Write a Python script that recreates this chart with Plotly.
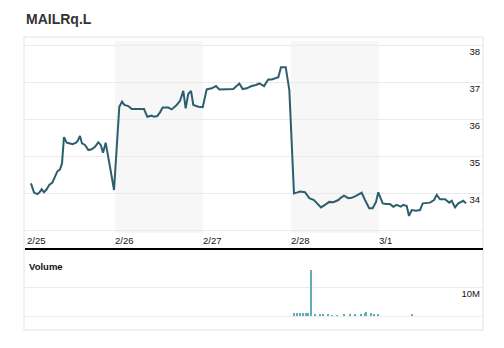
import plotly.graph_objects as go

W, H = 504, 348

# Trading sessions shown on the x axis (one unit = one session)
day_labels = ["2/25", "2/26", "2/27", "2/28", "3/1"]
day_starts = [0, 1, 2, 3, 4]

# Intraday price series: session position and last price
t_price = [0.045, 0.08, 0.117, 0.14, 0.167, 0.193, 0.224, 0.253, 0.288, 0.318, 0.344, 0.375, 0.398,
           0.42, 0.451, 0.489, 0.519, 0.557, 0.576, 0.602, 0.625, 0.659, 0.697, 0.735, 0.773, 0.81,
           0.838, 0.864, 0.894, 0.943, 0.989,
           1.049, 1.08, 1.106, 1.151, 1.19, 1.227, 1.265, 1.33, 1.367, 1.417, 1.443, 1.481, 1.511,
           1.542, 1.606, 1.644, 1.701, 1.739, 1.776, 1.803, 1.833, 1.864, 1.89, 1.947, 1.997,
           2.042, 2.099, 2.148, 2.185, 2.261, 2.344, 2.413, 2.451, 2.497, 2.553, 2.602, 2.64, 2.693,
           2.742, 2.781, 2.818, 2.856, 2.886, 2.94, 2.981,
           3.034, 3.065, 3.102, 3.159, 3.208, 3.261, 3.341, 3.386, 3.435, 3.481, 3.538, 3.565, 3.602,
           3.651, 3.69, 3.739, 3.803, 3.841, 3.889, 3.928, 3.966, 3.992,
           4.042, 4.08, 4.125, 4.163, 4.201, 4.247, 4.276, 4.315, 4.341, 4.372, 4.42, 4.466, 4.497,
           4.58, 4.625, 4.656, 4.693, 4.75, 4.799, 4.826, 4.864, 4.901, 4.958, 4.989]
price = [34.26, 34.01, 33.97, 34.01, 34.10, 34.02, 34.10, 34.22, 34.28, 34.44, 34.58, 34.64, 34.80,
         35.51, 35.36, 35.34, 35.32, 35.36, 35.41, 35.54, 35.34, 35.30, 35.16, 35.18, 35.25, 35.37,
         35.30, 35.09, 35.36, 34.71, 34.08,
         36.33, 36.47, 36.38, 36.35, 36.27, 36.27, 36.29, 36.27, 36.06, 36.09, 36.06, 36.08, 36.18,
         36.31, 36.31, 36.26, 36.38, 36.49, 36.76, 36.29, 36.68, 36.76, 36.38, 36.33, 36.32,
         36.80, 36.83, 36.89, 36.80, 36.81, 36.81, 36.96, 36.81, 36.83, 36.89, 36.92, 36.96, 36.89,
         37.07, 37.07, 37.10, 37.13, 37.40, 37.40, 36.78,
         33.99, 34.01, 34.04, 34.02, 33.86, 33.81, 33.61, 33.68, 33.76, 33.75, 33.81, 33.87, 33.93,
         33.86, 33.87, 33.92, 34.01, 33.81, 33.59, 33.59, 33.76, 34.02,
         33.72, 33.70, 33.70, 33.63, 33.68, 33.63, 33.68, 33.65, 33.38, 33.54, 33.52, 33.54, 33.72,
         33.74, 33.81, 33.95, 33.83, 33.83, 33.74, 33.79, 33.61, 33.72, 33.79, 33.72]

# Volume bars (millions of shares)
t_volume = [3.04, 3.07, 3.10, 3.14, 3.17, 3.20, 3.23, 3.28, 3.33, 3.37, 3.42, 3.47, 3.53, 3.61,
            3.67, 3.73, 3.80, 3.84, 3.86, 3.91, 3.95, 3.99, 4.375]
volume_m = [1.1, 1.1, 1.1, 1.0, 1.0, 0.9, 15.9, 0.5, 0.5, 0.4, 0.5, 0.3, 0.3, 0.6,
            0.5, 0.6, 0.5, 1.2, 1.3, 0.9, 0.8, 0.6, 0.5]

price_ticks = [33, 34, 35, 36, 37, 38]
price_ticktext = ["", "34", "35", "36", "37", "38"]
volume_ticks = [0, 10]
volume_ticktext = ["", "10M"]

FONT = "Liberation Sans, Arial, sans-serif"
LINE_COLOR = "#2c5f6e"
BAR_COLOR = "#66abbb"
GRID = "#ebebeb"
BAND = "#f7f7f7"


def px_x(p):
    return p / W


def px_y(p):
    return 1 - p / H


x_left, x_right = 25, 483
x_range = [(x_left - 27) / 88, (x_right - 27) / 88]

fig = go.Figure()

fig.add_trace(go.Scatter(
    x=t_price, y=price, mode="lines",
    line=dict(color=LINE_COLOR, width=2),
    xaxis="x", yaxis="y", showlegend=False, hoverinfo="skip",
))

fig.add_trace(go.Bar(
    x=t_volume, y=volume_m, width=0.016,
    marker=dict(color=BAR_COLOR, line=dict(width=0)),
    xaxis="x2", yaxis="y2", showlegend=False, hoverinfo="skip",
))

shapes = [
    # outer frame
    dict(type="rect", xref="paper", yref="paper",
         x0=px_x(24), x1=px_x(483), y0=px_y(330), y1=px_y(37),
         line=dict(color="#e2e2e2", width=1), fillcolor="rgba(0,0,0,0)", layer="below"),
    # separator between price and volume panels
    dict(type="line", xref="paper", yref="paper",
         x0=px_x(25), x1=px_x(483), y0=px_y(249), y1=px_y(249),
         line=dict(color="#000000", width=2)),
]
# alternating session shading
for d in (1, 3):
    shapes.append(dict(type="rect", xref="x", yref="y domain",
                       x0=d, x1=d + 1, y0=0, y1=1,
                       fillcolor=BAND, line=dict(width=0), layer="below"))

fig.update_layout(
    width=W, height=H,
    margin=dict(l=0, r=0, t=0, b=0),
    paper_bgcolor="white", plot_bgcolor="rgba(0,0,0,0)",
    font=dict(family=FONT, size=10, color="#222"),
    shapes=shapes,
    bargap=0,
    xaxis=dict(
        domain=[px_x(x_left), px_x(x_right)], range=x_range,
        tickvals=day_starts, ticktext=day_labels,
        ticklabelposition="outside right", ticks="",
        showgrid=False, zeroline=False, showline=False,
        tickfont=dict(size=9.5, color="#111"), anchor="y",
    ),
    yaxis=dict(
        domain=[px_y(233), px_y(41)],
        range=[38 - (233 - 45) / 37, 38 + (45 - 41) / 37],
        tickvals=price_ticks, ticktext=price_ticktext,
        side="right", ticklabelposition="inside bottom", ticks="",
        showgrid=True, gridcolor=GRID, gridwidth=1, zeroline=False, showline=False,
        tickfont=dict(size=9.5, color="#111"), anchor="x",
    ),
    xaxis2=dict(
        domain=[px_x(x_left), px_x(x_right)], range=x_range,
        showticklabels=False, ticks="", showgrid=False, zeroline=False, showline=False,
        anchor="y2",
    ),
    yaxis2=dict(
        domain=[px_y(320), px_y(262)],
        range=[-(320 - 316) / 2.9, (316 - 262) / 2.9],
        tickvals=volume_ticks, ticktext=volume_ticktext,
        side="right", ticklabelposition="inside bottom", ticks="",
        showgrid=True, gridcolor=GRID, gridwidth=1, zeroline=False, showline=False,
        tickfont=dict(size=9.5, color="#111"), anchor="x2",
    ),
    annotations=[
        dict(text="<b>MAILRq.L</b>", xref="paper", yref="paper",
             x=px_x(24), y=px_y(19), xanchor="left", yanchor="middle",
             showarrow=False, font=dict(size=14, color="#333", family=FONT)),
        dict(text="<b>Volume</b>", xref="paper", yref="paper",
             x=px_x(27), y=px_y(266), xanchor="left", yanchor="middle",
             showarrow=False, font=dict(size=9.5, color="#111", family=FONT)),
    ],
)

fig.write_html("out.html")
